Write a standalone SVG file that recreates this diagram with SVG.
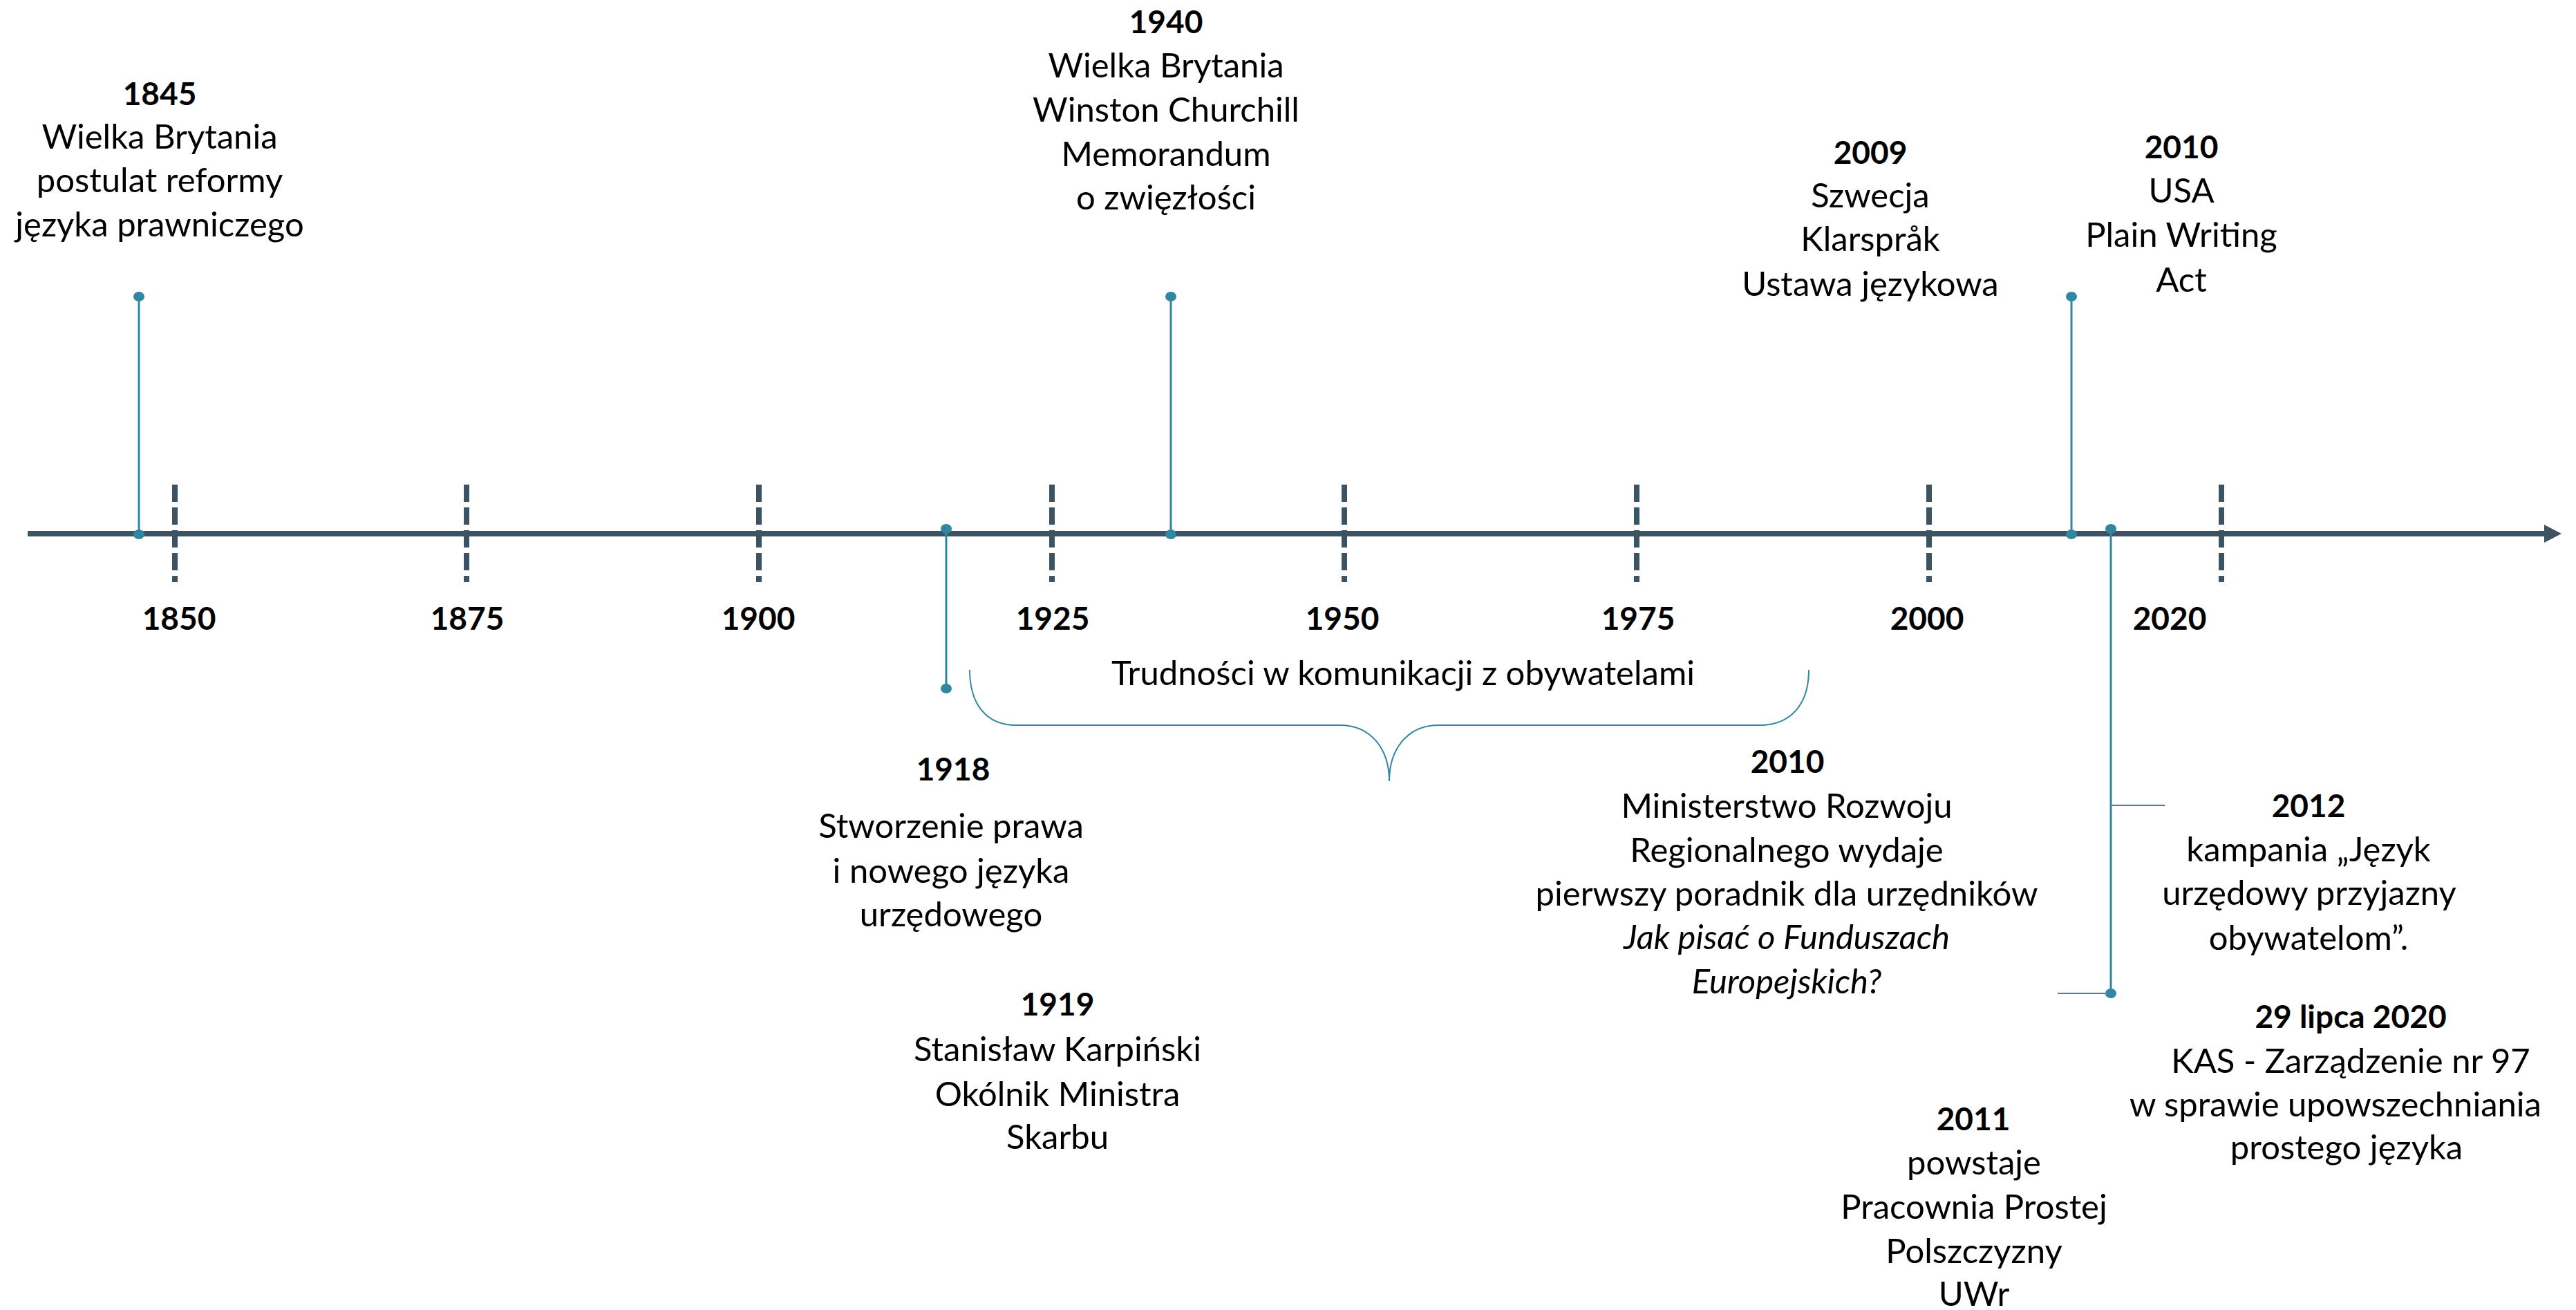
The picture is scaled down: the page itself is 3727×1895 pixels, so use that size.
<svg xmlns="http://www.w3.org/2000/svg" width="3727" height="1895" viewBox="0 0 3727 1895">
<style>
text{font-family:Lato,"Open Sans","Liberation Sans",sans-serif;font-size:49px;fill:#000;text-anchor:middle}
.b{font-weight:bold;font-size:46px}
.i{font-style:italic}
.axis{stroke:#3C5363;stroke-width:8;fill:none}
.tick{stroke:#3C5363;stroke-width:8;stroke-dasharray:25 8;fill:none}
.stem{stroke:#2F87A0;stroke-width:3;fill:none}
.thin{stroke:#2F87A0;stroke-width:2;fill:none}
.dot{fill:#2F87A0}
</style>
<rect width="3727" height="1895" fill="#fff"/>
<g id="axis">
<line class="axis" x1="40" y1="772" x2="3684" y2="772"/>
<polygon points="3681,759 3706,772 3681,785" fill="#3C5363"/>
<line class="tick" x1="253" y1="701" x2="253" y2="842"/>
<line class="tick" x1="675" y1="701" x2="675" y2="842"/>
<line class="tick" x1="1098" y1="701" x2="1098" y2="842"/>
<line class="tick" x1="1522" y1="701" x2="1522" y2="842"/>
<line class="tick" x1="1945" y1="701" x2="1945" y2="842"/>
<line class="tick" x1="2368" y1="701" x2="2368" y2="842"/>
<line class="tick" x1="2791" y1="701" x2="2791" y2="842"/>
<line class="tick" x1="3214" y1="701" x2="3214" y2="842"/>
<text class="b" x="259" y="911">1850</text>
<text class="b" x="676" y="911">1875</text>
<text class="b" x="1097" y="911">1900</text>
<text class="b" x="1523" y="911">1925</text>
<text class="b" x="1942" y="911">1950</text>
<text class="b" x="2370" y="911">1975</text>
<text class="b" x="2788" y="911">2000</text>
<text class="b" x="3139" y="911">2020</text>
</g>
<g id="connectors">
<line class="stem" x1="201" y1="429" x2="201" y2="773"/>
<line class="stem" x1="1694" y1="429" x2="1694" y2="773"/>
<line class="stem" x1="2997" y1="429" x2="2997" y2="773"/>
<line class="stem" x1="1369" y1="765" x2="1369" y2="996"/>
<line class="stem" x1="3054" y1="765" x2="3054" y2="1437"/>
<line class="thin" x1="3054" y1="1165" x2="3132" y2="1165"/>
<line class="thin" x1="2977" y1="1437" x2="3054" y2="1437"/>
<ellipse class="dot" cx="201" cy="429" rx="8" ry="7"/>
<ellipse class="dot" cx="201" cy="773" rx="8" ry="7"/>
<ellipse class="dot" cx="1694" cy="429" rx="8" ry="7"/>
<ellipse class="dot" cx="1694" cy="773" rx="8" ry="7"/>
<ellipse class="dot" cx="2997" cy="429" rx="8" ry="7"/>
<ellipse class="dot" cx="2997" cy="773" rx="8" ry="7"/>
<ellipse class="dot" cx="1369" cy="765" rx="8" ry="7"/>
<ellipse class="dot" cx="1369" cy="996" rx="8" ry="7"/>
<ellipse class="dot" cx="3054" cy="765" rx="8" ry="7"/>
<ellipse class="dot" cx="3054" cy="1437" rx="8" ry="7"/>
<path class="thin" d="M1403,969 C1403,1020 1428,1049 1470,1049 L1938,1049 C1985,1049 2010,1085 2010,1130 C2010,1085 2035,1049 2082,1049 L2546,1049 C2590,1049 2617,1020 2617,969"/>
</g>
<g id="e1845">
<text class="b" x="231" y="152">1845</text>
<text x="231" y="215">Wielka Brytania</text>
<text x="231" y="278">postulat reformy</text>
<text x="231" y="342">języka prawniczego</text>
</g>
<g id="e1940">
<text class="b" x="1687" y="48">1940</text>
<text x="1687" y="112">Wielka Brytania</text>
<text x="1687" y="176">Winston Churchill</text>
<text x="1687" y="240">Memorandum</text>
<text x="1687" y="303">o zwięzłości</text>
</g>
<g id="e2009">
<text class="b" x="2706" y="237">2009</text>
<text x="2706" y="300">Szwecja</text>
<text x="2706" y="363">Klarspråk</text>
<text x="2706" y="428">Ustawa językowa</text>
</g>
<g id="e2010usa">
<text class="b" x="3156" y="229">2010</text>
<text x="3156" y="293">USA</text>
<text x="3156" y="357">Plain Writing</text>
<text x="3156" y="422">Act</text>
</g>
<g id="trudnosci">
<text x="2030" y="991">Trudności w komunikacji z obywatelami</text>
</g>
<g id="e1918">
<text class="b" x="1379" y="1129">1918</text>
<text x="1376" y="1212">Stworzenie prawa</text>
<text x="1376" y="1277">i nowego języka</text>
<text x="1376" y="1340">urzędowego</text>
</g>
<g id="e1919">
<text class="b" x="1530" y="1469">1919</text>
<text x="1530" y="1535">Stanisław Karpiński</text>
<text x="1530" y="1600">Okólnik Ministra</text>
<text x="1530" y="1662">Skarbu</text>
</g>
<g id="e2010mrr">
<text class="b" x="2586" y="1118">2010</text>
<text x="2585" y="1183">Ministerstwo Rozwoju</text>
<text x="2585" y="1247">Regionalnego wydaje</text>
<text x="2585" y="1310">pierwszy poradnik dla urzędników</text>
<text class="i" x="2585" y="1373">Jak pisać o Funduszach</text>
<text class="i" x="2585" y="1437">Europejskich?</text>
</g>
<g id="e2011">
<text class="b" x="2855" y="1635">2011</text>
<text x="2856" y="1699">powstaje</text>
<text x="2856" y="1763">Pracownia Prostej</text>
<text x="2856" y="1827">Polszczyzny</text>
<text x="2856" y="1889">UWr</text>
</g>
<g id="e2012">
<text class="b" x="3340" y="1182">2012</text>
<text x="3340" y="1246">kampania „Język</text>
<text x="3341" y="1309">urzędowy przyjazny</text>
<text x="3340" y="1374">obywatelom”.</text>
</g>
<g id="e2020">
<text class="b" x="3401" y="1487">29 lipca 2020</text>
<text x="3401" y="1552">KAS - Zarządzenie nr 97</text>
<text x="3379" y="1615">w sprawie upowszechniania</text>
<text x="3395" y="1677">prostego języka</text>
</g>
</svg>
